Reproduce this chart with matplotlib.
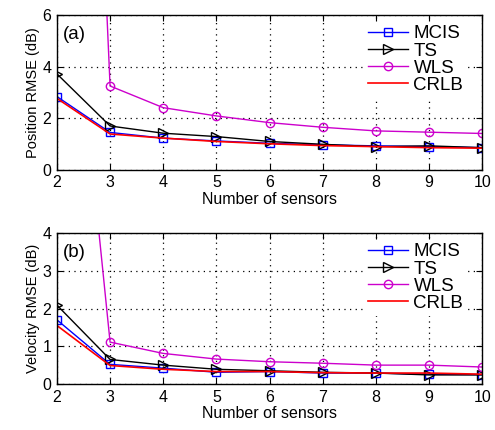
import matplotlib
matplotlib.use('Agg')
import matplotlib.pyplot as plt

plt.rcParams['font.family'] = ['Liberation Sans', 'DejaVu Sans']

sensors = [2, 3, 4, 5, 6, 7, 8, 9, 10]

# position RMSE (a)
pos_mcis = [2.84, 1.45, 1.23, 1.12, 1.03, 0.97, 0.93, 0.90, 0.86]
pos_ts = [3.72, 1.70, 1.42, 1.29, 1.10, 0.99, 0.90, 0.93, 0.86]
pos_wls = [50.0, 3.25, 2.41, 2.09, 1.83, 1.65, 1.51, 1.46, 1.41]
pos_crlb = [2.77, 1.39, 1.23, 1.10, 1.01, 0.94, 0.90, 0.86, 0.84]

# velocity RMSE (b)
vel_mcis = [1.70, 0.52, 0.42, 0.31, 0.33, 0.29, 0.29, 0.26, 0.25]
vel_ts = [2.09, 0.65, 0.50, 0.39, 0.35, 0.31, 0.29, 0.24, 0.24]
vel_wls = [15.0, 1.11, 0.81, 0.66, 0.59, 0.55, 0.50, 0.50, 0.45]
vel_crlb = [1.55, 0.49, 0.39, 0.33, 0.33, 0.30, 0.29, 0.29, 0.26]

panels = [
    ('(a)', 'Position RMSE (dB)', pos_mcis, pos_ts, pos_wls, pos_crlb,
     [0, 6], [0, 2, 4, 6], [0.115, 0.605, 0.859, 0.36]),
    ('(b)', 'Velocity RMSE (dB)', vel_mcis, vel_ts, vel_wls, vel_crlb,
     [0, 4], [0, 1, 2, 3, 4], [0.115, 0.107, 0.859, 0.351]),
]

fig = plt.figure(figsize=(4.95, 4.30), dpi=100)

for tag, ylab, mcis, ts, wls, crlb, ylim, yt, pos in panels:
    ax = fig.add_axes(pos)
    ax.plot(sensors, mcis, '-s', color='#0000ff', mfc='none', ms=6, lw=1, label='MCIS')
    ax.plot(sensors, ts, '->', color='black', mfc='none', ms=6.5, lw=1, label='TS')
    ax.plot(sensors, wls, '-o', color='#cc00cc', mfc='none', ms=6, lw=1, label='WLS')
    ax.plot(sensors, crlb, '-', color='red', lw=1.2, label='CRLB')
    ax.set_xlim(2, 10)
    ax.set_ylim(*ylim)
    ax.set_xticks(sensors)
    ax.set_yticks(yt)
    ax.grid(True, linestyle=(0, (1, 3.5)), color='black', linewidth=0.9)
    ax.tick_params(direction='in', top=True, right=True, labelsize=11.5, length=4, pad=4)
    ax.set_xlabel('Number of sensors', fontsize=11.5, labelpad=1)
    ax.set_ylabel(ylab, fontsize=10.5, labelpad=2)
    ax.text(0.015, 0.93, tag, transform=ax.transAxes, fontsize=13.5, va='top', ha='left')
    leg = ax.legend(loc='upper right', bbox_to_anchor=(0.98, 1.0), fontsize=13.5,
                    frameon=True, fancybox=False, edgecolor='white', framealpha=1,
                    handlelength=2.1, borderpad=0.15, labelspacing=0.0,
                    handletextpad=0.3, borderaxespad=0.4)
    for sp in ax.spines.values():
        sp.set_linewidth(1)

fig.savefig('out.png', dpi=100)
